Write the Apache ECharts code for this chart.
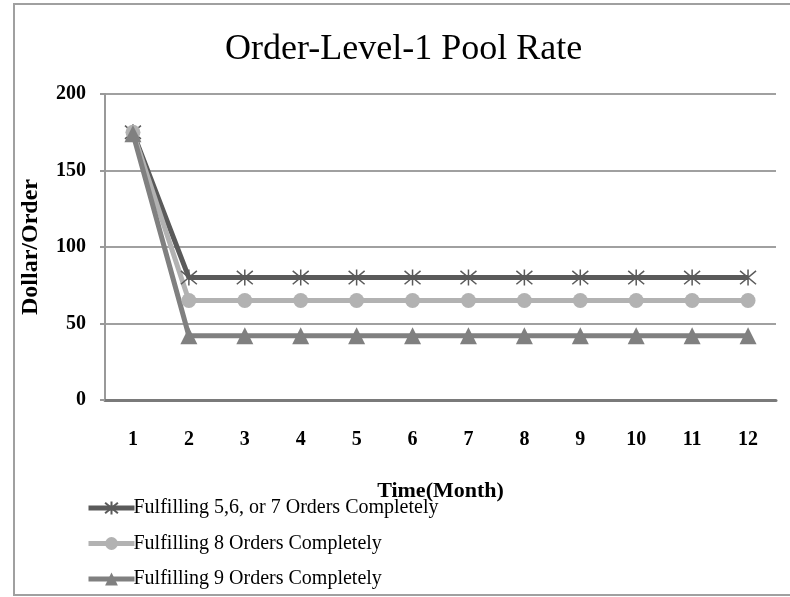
<!DOCTYPE html>
<html>
<head>
<meta charset="utf-8">
<script src="https://cdn.jsdelivr.net/npm/echarts@6/dist/echarts.min.js"></script>
<style>
  html, body { margin: 0; padding: 0; background: #fff; }
  #main { width: 790px; height: 597px; }
</style>
</head>
<body>
<div id="main"></div>
<script>
var months = ['1', '2', '3', '4', '5', '6', '7', '8', '9', '10', '11', '12'];
var fulfil567 = [175, 80, 80, 80, 80, 80, 80, 80, 80, 80, 80, 80];
var fulfil8 = [175, 65, 65, 65, 65, 65, 65, 65, 65, 65, 65, 65];
var fulfil9 = [174, 42, 42, 42, 42, 42, 42, 42, 42, 42, 42, 42];
var seriesNames = [
    'Fulfilling 5,6, or 7 Orders Completely',
    'Fulfilling 8 Orders Completely',
    'Fulfilling 9 Orders Completely'
];

window.onload = function () {
    var chartDom = document.getElementById('main');
    var myChart = echarts.init(chartDom);
    var serif = "'Liberation Serif', 'DejaVu Serif', serif";
    var asterisk = 'path://M0,0 L10,10 M10,0 L0,10 M5,-1 L5,11';

    var option = {
        backgroundColor: '#fff',
        animation: false,
        graphic: [{
            type: 'rect',
            shape: { x: 14, y: 4, width: 800, height: 591 },
            style: { fill: 'none', stroke: '#a0a0a0', lineWidth: 2 },
            silent: true
        }],
        title: {
            text: 'Order-Level-1 Pool Rate',
            left: 220,
            top: 27,
            textStyle: { fontFamily: serif, fontSize: 36, fontWeight: 'normal', color: '#000' }
        },
        legend: {
            orient: 'vertical',
            left: 81,
            top: 493,
            itemWidth: 46,
            itemHeight: 16,
            itemGap: 15.5,
            lineStyle: { width: 5 },
            textStyle: { fontFamily: serif, fontSize: 20, color: '#000', padding: [0, 0, 0, -6] },
            data: seriesNames
        },
        grid: { left: 105, right: 14, top: 94, bottom: 197 },
        xAxis: {
            type: 'category',
            data: months,
            boundaryGap: true,
            name: 'Time(Month)',
            nameLocation: 'middle',
            nameGap: 80,
            nameTextStyle: { fontFamily: serif, fontSize: 22, fontWeight: 'bold', color: '#000' },
            axisLine: { lineStyle: { color: '#7a7a7a', width: 3 } },
            axisTick: { show: false },
            axisLabel: { fontFamily: serif, fontSize: 20, fontWeight: 'bold', color: '#000', margin: 30 }
        },
        yAxis: {
            type: 'value',
            min: 0,
            max: 200,
            interval: 50,
            name: 'Dollar/Order',
            nameLocation: 'middle',
            nameGap: 62,
            nameTextStyle: { fontFamily: serif, fontSize: 24, fontWeight: 'bold', color: '#000' },
            axisLine: { show: true, lineStyle: { color: '#999', width: 2 } },
            axisTick: { show: true, length: 5, lineStyle: { color: '#999', width: 2 } },
            axisLabel: { fontFamily: serif, fontSize: 20, fontWeight: 'bold', color: '#000', margin: 19 },
            splitLine: { lineStyle: { color: '#a0a0a0', width: 2 } }
        },
        series: [
            {
                name: seriesNames[0],
                type: 'line',
                data: fulfil567,
                symbol: asterisk,
                symbolSize: 16,
                showAllSymbol: true,
                lineStyle: { color: '#5a5a5a', width: 5 },
                itemStyle: { color: '#5a5a5a', borderColor: '#5a5a5a', borderWidth: 1.5 }
            },
            {
                name: seriesNames[1],
                type: 'line',
                data: fulfil8,
                symbol: 'circle',
                symbolSize: 15,
                showAllSymbol: true,
                lineStyle: { color: '#b2b2b2', width: 5 },
                itemStyle: { color: '#b2b2b2', borderWidth: 0 }
            },
            {
                name: seriesNames[2],
                type: 'line',
                data: fulfil9,
                symbol: 'triangle',
                symbolSize: 17,
                showAllSymbol: true,
                lineStyle: { color: '#808080', width: 5 },
                itemStyle: { color: '#808080', borderWidth: 0 }
            }
        ]
    };

    myChart.setOption(option);
};
</script>
</body>
</html>
